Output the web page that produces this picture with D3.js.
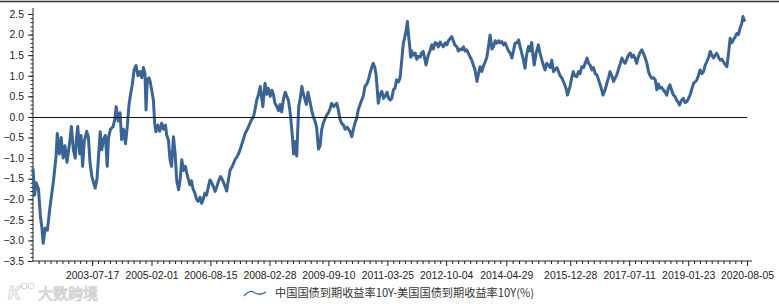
<!DOCTYPE html>
<html>
<head>
<meta charset="utf-8">
<script src="https://cdn.jsdelivr.net/npm/d3@7"></script>
<style>
  body { margin: 0; background: #fff; }
  svg { display: block; font-family: "Liberation Sans", Arial, sans-serif; }
</style>
</head>
<body>
<svg id="chart" width="779" height="304"></svg>
<script>
// x positions are read as months elapsed since 2002-01-01
const monthOffsets = [
  0, 0.5, 1, 1.7, 2.3, 2.8, 3.2, 3.8, 4.5, 5.3, 6.4, 7.2, 7.6, 8.2, 8.8, 9.4, 10, 10.6, 11.5, 12, 12.6, 13.2, 13.6, 14, 14.6, 15, 15.5, 16, 16.8, 17.3, 17.8, 18.4, 19.4, 20, 20.4, 21, 21.5, 22, 22.6, 23.2, 23.6, 24.2, 25, 25.6,
  26, 26.6, 27.2, 27.7, 28.3, 28.9, 29.5, 30, 30.5, 31, 31.6, 32.2, 32.8, 33.4, 34, 34.5, 35, 35.3, 35.7, 36.2, 36.6, 37.1, 37.6, 38, 38.4, 39, 39.6, 40.2, 40.8, 41.4, 41.8, 42.3, 42.8, 43.3, 43.9, 44.4, 44.9, 45.5, 46, 46.5, 47, 47.6, 48, 48.5, 49, 49.5, 50, 50.6,
  51.1, 51.6, 52.2, 52.7, 53.2, 53.7, 54.2, 54.8, 55.3, 55.8, 56.4, 56.9, 57.4, 58, 58.6, 59, 59.6, 60.5, 61, 61.6, 62.3, 63.1, 63.9, 64.7, 65.5, 66.3, 67, 67.8, 68.4, 68.9, 69.4, 69.9, 70.5, 71, 71.4, 71.8, 72.2, 72.5, 73, 73.5, 74.1, 74.6, 75.1, 75.6,
  76.2, 76.7, 77.2, 77.7, 78.3, 78.8, 79.3, 79.8, 80.2, 80.5, 81, 81.4, 81.9, 82.4, 83, 83.5, 84, 84.5, 84.9, 85.4, 85.9, 86.6, 87.1, 87.6, 88.1, 88.6, 89.2, 89.7, 90.2, 90.7, 91.2, 91.8, 92.3, 92.8, 93.3, 94, 94.9, 95.4, 95.9, 96.4, 97, 97.5, 98.2, 99, 99.6, 100.1, 100.6,
  101.1, 101.6, 102.2, 102.7, 103.2, 103.7, 104.3, 104.8, 105.3, 105.8, 106.3, 106.8, 107.2, 107.9, 108.4, 109, 109.5, 110, 110.6, 111.1, 111.6, 112.1, 112.6, 113.1, 113.6, 114.2, 114.7, 115.2, 115.7, 116.2, 116.6, 117, 117.3, 117.6, 118, 118.3, 118.8, 119.4, 119.9, 120.4,
  121, 121.4, 121.9, 122.3, 122.8, 123.2, 123.5, 124, 124.6, 125.1, 125.6, 126.1, 126.6, 127.2, 127.7, 128.2, 128.8, 129.3, 129.8, 130.3, 130.8, 131.3, 131.8, 132.4, 132.9, 133.4, 134, 134.5, 135, 135.5, 136, 136.6, 137.1, 137.6, 138.1, 138.7, 139.2, 139.7, 140.2, 140.8,
  141.3, 141.8, 142.3, 142.8, 143.4, 143.9, 144.4, 144.9, 145.5, 146, 146.5, 147, 147.5, 148, 148.6, 149.1, 149.6, 150.1, 150.6, 151.2, 151.7, 152.2, 152.7, 153.2, 153.7, 154.2, 154.8, 155.3, 155.8, 156.2, 156.6, 157.2, 157.9, 158.4, 159, 159.5, 160, 160.5,
  161, 161.6, 162.1, 162.6, 163.1, 163.7, 164.2, 164.7, 165.2, 165.7, 166.3, 166.7, 167, 167.4, 167.8, 168.3, 168.8, 169.3, 169.9, 170.4, 170.9, 171.5, 172, 172.5, 173.1, 173.6, 174.1, 174.6, 175.1, 175.7, 176.2, 176.7, 177.2, 177.7, 178.1, 178.7, 179.3, 179.8, 180.3,
  180.8, 181.4, 181.9, 182.4, 182.9, 183.5, 184, 184.5, 185, 185.5, 186, 186.6, 187.1, 187.6, 188.1, 188.6, 189.1, 189.6, 190.2, 190.7, 191.3, 191.8, 192.3, 192.8, 193.3, 193.9, 194.4, 194.9, 195.4, 195.9, 196.4, 196.9, 197.5, 198, 198.5, 199, 199.5, 200.1,
  200.6, 201.1, 201.6, 202, 202.6, 203.2, 203.7, 204.3, 204.8, 205.3, 205.9, 206.4, 206.9, 207.4, 207.9, 208.4, 209, 209.5, 210, 210.5, 211.1, 211.6, 212.1, 212.6, 213.1, 213.6, 214.2, 214.7, 215.2, 215.7, 216.2, 216.8, 217.3, 217.8, 218.3, 218.8, 219.4, 219.9,
  220.4, 220.9, 221.4, 221.8, 222.2, 222.5
];

// 中国10Y - 美国10Y spread (%)
const spread = [
  -1.25, -1.9, -1.6, -1.75, -2.4, -2.7, -3.07, -2.7, -2.75, -2.2, -1.55, -0.96, -0.4, -0.9, -0.5, -1.0, -0.7, -1.1, -0.6, -0.23, -0.8, -1.0, -0.5, -0.23, -0.9, -0.45, -1.2, -0.6, -0.35, -0.5, -1.1, -1.45, -1.73, -1.5, -1.05, -0.36, -0.8, -0.55, -0.45, -1.2, -0.5, -0.3, -0.24, -0.05,
  0.25, -0.1, 0.1, -0.55, -0.3, -0.65, -0.2, 0.3, 0.55, 0.78, 1.15, 1.25, 1.0, 1.1, 0.95, 1.2, 1.05, 0.17, 0.9, 0.95, 0.86, 0.65, 0.41, -0.15, -0.36, -0.2, -0.35, -0.15, -0.3, -0.2, -0.45, -0.56, -1.04, -1.2, -0.48, -0.9, -1.55, -1.77, -1.5, -1.04, -1.3, -1.2, -1.35, -1.5, -1.65, -1.55, -1.75, -1.85,
  -2.0, -2.05, -1.95, -2.1, -2.0, -1.85, -1.9, -1.7, -1.53, -1.6, -1.7, -1.81, -1.7, -1.55, -1.45, -1.5, -1.6, -1.8, -1.55, -1.29, -1.2, -1.04, -0.95, -0.8, -0.6, -0.4, -0.3, -0.15, -0.05, 0.0, 0.2, 0.41, 0.55, 0.74, 0.5, 0.25, 0.6, 0.82, 0.55, 0.7, 0.5, 0.65, 0.55, 0.33,
  0.25, 0.15, 0.3, 0.12, 0.45, 0.6, 0.5, 0.41, 0.2, 0.0, -0.45, -0.9, -0.6, -0.95, 0.25, 0.45, 0.74, 0.55, 0.45, 0.3, 0.6, 0.35, 0.15, 0.0, -0.1, -0.25, -0.78, -0.7, -0.3, -0.15, -0.05, 0.05, 0.1, 0.2, 0.33, 0.25, 0.33, 0.17, -0.05, -0.15, -0.2, -0.3, -0.25, -0.35, -0.48, -0.3, -0.15,
  -0.05, 0.17, 0.3, 0.41, 0.5, 0.74, 0.8, 0.9, 1.06, 1.2, 1.3, 1.2, 1.02, 0.33, 0.55, 0.62, 0.45, 0.5, 0.6, 0.45, 0.41, 0.45, 0.66, 0.7, 0.9, 0.85, 0.95, 1.38, 1.79, 1.95, 2.11, 2.32, 2.0, 1.79, 1.45, 1.6, 1.5, 1.55, 1.4, 1.47,
  1.45, 1.55, 1.59, 1.45, 1.26, 1.4, 1.5, 1.6, 1.75, 1.65, 1.8, 1.79, 1.7, 1.82, 1.75, 1.7, 1.8, 1.75, 1.85, 1.9, 1.95, 1.85, 1.75, 1.71, 1.6, 1.65, 1.63, 1.7, 1.6, 1.63, 1.55, 1.45, 1.38, 1.25, 1.14, 0.86, 1.05, 1.22, 1.1, 1.25,
  1.34, 1.45, 1.71, 1.99, 1.65, 1.71, 1.85, 1.79, 1.85, 1.8, 1.83, 1.75, 1.8, 1.71, 1.6, 1.55, 1.43, 1.6, 1.79, 1.8, 1.87, 1.7, 1.55, 1.4, 1.18, 1.5, 1.71, 1.6, 1.81, 1.5, 1.26, 1.55, 1.75, 1.55, 1.38, 1.25, 1.14, 1.3,
  1.26, 1.2, 1.38, 1.1, 1.15, 1.2, 1.1, 1.0, 0.95, 0.86, 0.75, 0.65, 0.53, 0.65, 0.74, 0.95, 1.1, 1.0, 0.98, 1.1, 1.05, 1.22, 1.2, 1.3, 1.43, 1.3, 1.25, 1.14, 1.2, 1.05, 1.02, 0.9, 0.78, 0.65, 0.53, 0.65, 0.82, 0.95, 1.1,
  1.0, 0.86, 0.95, 1.02, 1.15, 1.3, 1.43, 1.35, 1.3, 1.4, 1.5, 1.55, 1.45, 1.5, 1.42, 1.3, 1.45, 1.55, 1.63, 1.55, 1.43, 1.3, 1.1, 1.0, 0.94, 0.95, 0.9, 0.66, 0.8, 0.7, 0.72, 0.66, 0.6, 0.53, 0.7, 0.78, 0.65, 0.53,
  0.5, 0.41, 0.35, 0.29, 0.4, 0.45, 0.35, 0.37, 0.45, 0.53, 0.7, 0.82, 0.85, 0.9, 1.0, 1.14, 1.05, 1.1, 1.25, 1.34, 1.45, 1.59, 1.5, 1.43, 1.5, 1.55, 1.45, 1.38, 1.4, 1.34, 1.28, 1.22, 1.55, 1.91, 1.8, 1.87, 1.95, 2.03,
  2.0, 2.15, 2.25, 2.44, 2.35, 2.32
];

const xTickLabels = ["2003-07-17", "2005-02-01", "2006-08-15", "2008-02-28", "2009-09-10", "2011-03-25",
  "2012-10-04", "2014-04-29", "2015-12-28", "2017-07-11", "2019-01-23", "2020-08-05"];
const yTicks = [2.5, 2.0, 1.5, 1.0, 0.5, 0.0, -0.5, -1.0, -1.5, -2.0, -2.5, -3.0, -3.5];
const legendLabel = "中国国债到期收益率10Y-美国国债到期收益率10Y(%)";

const parseDay = d3.timeParse("%Y-%m-%d");
const base = new Date(2002, 0, 1);
const points = monthOffsets.map((m, i) => ({
  date: d3.timeDay.offset(base, Math.round(m * 30.44)),
  value: spread[i]
}));

const svg = d3.select("#chart");
const lineColor = "#3a6495";
const axisFont = "'Liberation Sans', Arial, sans-serif";

const x = d3.scaleTime()
  .domain([base, new Date(2020, 8, 21)])
  .range([33, 752]);
const y = d3.scaleLinear()
  .domain([-3.5, 2.5])
  .range([261, 14]);

// top border
svg.append("line")
  .attr("x1", 0).attr("x2", 779).attr("y1", 1.5).attr("y2", 1.5)
  .attr("stroke", "#333").attr("stroke-width", 1.5);

// minor ticks on x: ten steps per labelled interval
const majorDates = xTickLabels.map(parseDay);
const minorDates = [];
const stepMs = (majorDates[1] - majorDates[0]) / 10;
for (let t = +majorDates[0]; t > +x.domain()[0]; t -= stepMs) minorDates.push(new Date(t));
for (let k = 0; k < majorDates.length - 1; k++) {
  const a = +majorDates[k], b = +majorDates[k + 1];
  for (let j = 1; j < 10; j++) minorDates.push(new Date(a + (b - a) * j / 10));
}
for (let t = +majorDates[majorDates.length - 1] + stepMs; t < +x.domain()[1]; t += stepMs) minorDates.push(new Date(t));

const xAxisG = svg.append("g").attr("transform", "translate(0,261)");
xAxisG.append("g")
  .call(d3.axisBottom(x).tickValues(minorDates).tickSize(3).tickFormat(""))
  .call(g => g.select(".domain").remove());
xAxisG.append("g")
  .call(d3.axisBottom(x).tickValues(majorDates).tickSize(5).tickPadding(6)
    .tickFormat(d3.timeFormat("%Y-%m-%d")))
  .call(g => g.select(".domain").remove())
  .call(g => g.selectAll("text").attr("font-size", 10.4).attr("fill", "#222")
    .attr("font-family", axisFont));
xAxisG.selectAll("line").attr("stroke", "#222");
xAxisG.append("line").attr("x1", 33).attr("x2", 752).attr("stroke", "#222");

// y axis
const yAxisG = svg.append("g").attr("transform", "translate(33,0)");
yAxisG.append("g")
  .call(d3.axisLeft(y).ticks(60).tickSize(2.5).tickFormat(""))
  .call(g => g.select(".domain").remove());
yAxisG.append("g")
  .call(d3.axisLeft(y).tickValues(yTicks).tickSize(5).tickPadding(4).tickFormat(d3.format(".1f")))
  .call(g => g.select(".domain").remove())
  .call(g => g.selectAll("text").attr("font-size", 10.4).attr("fill", "#222")
    .attr("font-family", axisFont));
yAxisG.selectAll("line").attr("stroke", "#222");
yAxisG.append("line").attr("y1", 8).attr("y2", 261).attr("stroke", "#222");

// series
const line = d3.line()
  .x(d => x(d.date))
  .y(d => y(d.value));
svg.append("path")
  .datum(points)
  .attr("d", line)
  .attr("fill", "none")
  .attr("stroke", lineColor)
  .attr("stroke-width", 3)
  .attr("stroke-linejoin", "round");

// zero line
svg.append("line")
  .attr("x1", 33).attr("x2", x(points[points.length - 1].date) + 2)
  .attr("y1", Math.round(y(0)) + 0.5).attr("y2", Math.round(y(0)) + 0.5)
  .attr("stroke", "#111").attr("stroke-width", 1);

// watermark
const wm = svg.append("g");
wm.append("text").attr("x", 8).attr("y", 299)
  .attr("font-size", 18).attr("font-style", "italic").attr("font-weight", "bold")
  .attr("fill", "#fff").attr("stroke", "#d4d4d4").attr("stroke-width", 1)
  .text("K");
wm.append("circle").attr("cx", 24).attr("cy", 286).attr("r", 3).attr("fill", "none").attr("stroke", "#d4d4d4");
wm.append("circle").attr("cx", 31).attr("cy", 286).attr("r", 3).attr("fill", "none").attr("stroke", "#d4d4d4");
wm.append("text").attr("x", 38).attr("y", 299)
  .attr("font-size", 15).attr("font-family", "'Noto Sans CJK SC', sans-serif")
  .attr("fill", "#fff").attr("stroke", "#d4d4d4").attr("stroke-width", 1)
  .text("大数跨境");

// legend
const lg = svg.append("g");
lg.append("path")
  .attr("d", d3.line().curve(d3.curveBasis)([[244, 296], [251, 289], [258, 296], [266, 292]]))
  .attr("fill", "none").attr("stroke", lineColor).attr("stroke-width", 1.3);
lg.append("text").attr("x", 275).attr("y", 297)
  .attr("font-size", 11.2).attr("fill", "#333")
  .attr("font-family", "'Noto Sans CJK SC', 'Liberation Sans', sans-serif")
  .text(legendLabel);
</script>
</body>
</html>
